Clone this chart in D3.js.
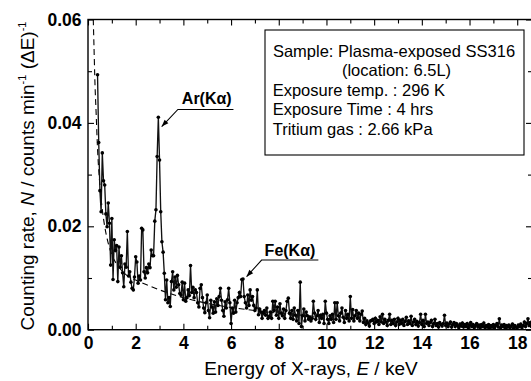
<!DOCTYPE html>
<html><head><meta charset="utf-8">
<script src="https://cdn.jsdelivr.net/npm/d3@7"></script>
<style>
body{margin:0;background:#fff}
svg{display:block}
text{font-family:"Liberation Sans",Arial,Helvetica,sans-serif;fill:#000}
</style>
</head><body>
<svg id="chart" width="531" height="381"></svg>
<script>
// ---- data ----
// spectrum channels: first channel energy and channel width (keV)
const channelStart = 0.40;
const channelWidth = 0.05;
// counting rate per channel, counts min^-1 (dE)^-1  (rows of 0.5 keV)
const rate = [
 .0493,.0362,.0269,.0228,.0342,.0288,.0280,.0224,.0199,.0245, // 0.40
 .0206,.0125,.0215,.0097,.0174,.0153,.0163,.0093,.0160,.0121, // 0.90
 .0143,.0110,.0083,.0127,.0121,.0190,.0104,.0112,.0092,.0080, // 1.40
 .0077,.0102,.0141,.0131,.0090,.0104,.0096,.0196,.0193,.0112, // 1.90
 .0100,.0120,.0110,.0127,.0120,.0154,.0143,.0143,.0210,.0232, // 2.40
 .0335,.0411,.0328,.0228,.0170,.0150,.0109,.0058,.0096,.0052, // 2.90
 .0062,.0045,.0093,.0112,.0077,.0102,.0082,.0105,.0087,.0070, // 3.40
 .0067,.0092,.0058,.0090,.0055,.0062,.0077,.0066,.0124,.0072, // 3.90
 .0082,.0062,.0077,.0072,.0052,.0044,.0080,.0087,.0062,.0042, // 4.40
 .0033,.0052,.0067,.0037,.0023,.0057,.0044,.0032,.0054,.0034, // 4.90
 .0060,.0047,.0064,.0080,.0057,.0037,.0026,.0054,.0042,.0058, // 5.40
 .0080,.0052,.0012,.0042,.0032,.0057,.0034,.0052,.0062,.0072, // 5.90
 .0064,.0097,.0098,.0064,.0052,.0042,.0067,.0047,.0077,.0057, // 6.40
 .0064,.0047,.0037,.0042,.0077,.0029,.0040,.0034,.0022,.0032, // 6.90
 .0037,.0028,.0042,.0022,.0026,.0034,.0022,.0055,.0037,.0055, // 7.40
 .0028,.0044,.0022,.0050,.0032,.0027,.0040,.0022,.0037,.0055, // 7.90
 .0061,.0032,.0022,.0037,.0020,.0042,.0028,.0017,.0037,.0012, // 8.40
 .0092,.0006,.0027,.0040,.0017,.0034,.0027,.0020,.0024,.0017, // 8.90
 .0022,.0055,.0032,.0020,.0027,.0037,.0014,.0028,.0022,.0030, // 9.40
 .0012,.0055,.0032,.0020,.0012,.0027,.0020,.0030,.0014,.0052, // 9.90
 .0020,.0052,.0027,.0017,.0032,.0042,.0024,.0014,.0037,.0022, // 10.40
 .0030,.0017,.0064,.0022,.0039,.0017,.0027,.0037,.0022,.0032, // 10.90
 .0017,.0030,.0036,.0014,.0022,.0010,.0017,.0013,.0007,.0017, // 11.40
 .0018,.0020,.0012,.0022,.0015,.0018,.0010,.0025,.0015,.0030, // 11.90
 .0012,.0020,.0015,.0008,.0018,.0030,.0010,.0018,.0012,.0020, // 12.40
 .0008,.0015,.0022,.0010,.0018,.0012,.0020,.0008,.0016,.0024, // 12.90
 .0010,.0017,.0012,.0026,.0008,.0015,.0020,.0010,.0016,.0007, // 13.40
 .0014,.0030,.0010,.0018,.0006,.0030,.0012,.0015,.0008,.0014, // 13.90
 .0018,.0006,.0012,.0020,.0008,.0012,.0005,.0014,.0010,.0007, // 14.40
 .0012,.0028,.0008,.0013,.0006,.0011,.0015,.0005,.0010,.0014, // 14.90
 .0006,.0012,.0008,.0004,.0011,.0007,.0013,.0005,.0010,.0006, // 15.40
 .0012,.0004,.0009,.0014,.0006,.0010,.0004,.0008,.0012,.0005, // 15.90
 .0009,.0004,.0010,.0006,.0013,.0004,.0008,.0005,.0010,.0003, // 16.40
 .0008,.0005,.0010,.0004,.0008,.0012,.0005,.0021,.0004,.0009, // 16.90
 .0006,.0010,.0003,.0008,.0005,.0009,.0004,.0007,.0011,.0003, // 17.40
 .0008,.0005,.0004,.0009,.0006,.0011,.0004,.0008,.0015,.0006, // 17.90
 .0012,.0021,.0008,.0014,.0006,.0010,.0005                    // 18.40
];
// background (dashed) curve
const bgEnergy = [0.21,0.25,0.29,0.34,0.40,0.48,0.58,0.70,0.85,1.0,1.2,1.4,1.7,2.0,2.5,3.0,3.5,4.0,5.0,6.0,7.0,8.0,9.0,10.0];
const bgRate   = [0.062,0.055,0.048,0.042,0.035,0.029,0.024,0.020,0.0167,0.0145,0.0127,0.0115,0.0103,0.0096,0.0086,0.0077,0.0069,0.0062,0.0051,0.0043,0.0037,0.0032,0.0028,0.0024];

const xMajor = [0,2,4,6,8,10,12,14,16,18];
const xMajorLabels = ["0","2","4","6","8","10","12","14","16","18"];
const xMinor = [1,3,5,7,9,11,13,15,17];
const yMajor = [0,0.02,0.04,0.06];
const yMajorLabels = ["0.00","0.02","0.04","0.06"];
const yMinor = [0.01,0.03,0.05];

const legendLines = [
  "Sample: Plasma-exposed SS316",
  "(location: 6.5L)",
  "Exposure temp. : 296 K",
  "Exposure Time : 4 hrs",
  "Tritium gas : 2.66 kPa"
];
const annotations = [
  {label:"Ar(K\u03b1)", tipE:3.09, tipV:0.0393, lineE0:3.77, lineE1:6.10, lineV:0.0426, textE:4.98, textV:0.0436},
  {label:"Fe(K\u03b1)", tipE:6.65, tipV:0.01025, lineE0:7.28, lineE1:9.66, lineV:0.01348, textE:8.47, textV:0.01435}
];

// ---- layout ----
const L = 88, R = 532, T = 19.5, B = 329.7;
const x = d3.scaleLinear().domain([0, 18.62]).range([L, R]);
const y = d3.scaleLinear().domain([0, 0.06]).range([B, T]);

const svg = d3.select("#chart");
svg.append("defs").append("clipPath").attr("id","plot")
  .append("rect").attr("x",L).attr("y",T).attr("width",R-L).attr("height",B-T);

const pts = rate.map((v,i)=>[channelStart + i*channelWidth, v]);
const bg = bgEnergy.map((e,i)=>[e, bgRate[i]]);

const plot = svg.append("g").attr("clip-path","url(#plot)");
plot.append("path").datum(bg)
  .attr("d", d3.line().x(d=>x(d[0])).y(d=>y(d[1])).curve(d3.curveMonotoneX))
  .attr("fill","none").attr("stroke","#000").attr("stroke-width",1.1)
  .attr("stroke-dasharray","6,4");
plot.append("path").datum(pts)
  .attr("d", d3.line().x(d=>x(d[0])).y(d=>y(d[1])))
  .attr("fill","none").attr("stroke","#111").attr("stroke-width",1.35);
plot.selectAll("circle").data(pts).join("circle")
  .attr("cx",d=>x(d[0])).attr("cy",d=>y(d[1])).attr("r",1.8).attr("fill","#000");

// ---- axes ----
function styleAxis(g){
  g.select(".domain").remove();
  g.selectAll(".tick line").attr("stroke","#000").attr("stroke-width",1.1);
  g.selectAll(".tick text").attr("font-size",17.5).attr("font-weight","bold")
    .attr("font-family",'"Liberation Sans",Arial,sans-serif').attr("fill","#000");
}
svg.append("g").attr("transform",`translate(0,${B})`)
  .call(d3.axisBottom(x).tickValues(xMajor).tickSize(-6).tickPadding(7)
        .tickFormat((d,i)=>xMajorLabels[i])).call(styleAxis);
svg.append("g").attr("transform",`translate(0,${B})`)
  .call(d3.axisBottom(x).tickValues(xMinor).tickSize(-4).tickFormat("")).call(styleAxis);
svg.append("g").attr("transform",`translate(0,${T})`)
  .call(d3.axisTop(x).tickValues(xMajor).tickSize(-6).tickFormat("")).call(styleAxis);
svg.append("g").attr("transform",`translate(0,${T})`)
  .call(d3.axisTop(x).tickValues(xMinor).tickSize(-4).tickFormat("")).call(styleAxis);
svg.append("g").attr("transform",`translate(${L},0)`)
  .call(d3.axisLeft(y).tickValues(yMajor).tickSize(-6).tickPadding(6.5)
        .tickFormat((d,i)=>yMajorLabels[i])).call(styleAxis);
svg.append("g").attr("transform",`translate(${L},0)`)
  .call(d3.axisLeft(y).tickValues(yMinor).tickSize(-4).tickFormat("")).call(styleAxis);
svg.append("g").attr("transform",`translate(${R},0)`)
  .call(d3.axisRight(y).tickValues(yMajor).tickSize(-6).tickFormat("")).call(styleAxis);
svg.append("g").attr("transform",`translate(${R},0)`)
  .call(d3.axisRight(y).tickValues(yMinor).tickSize(-4).tickFormat("")).call(styleAxis);

svg.append("rect").attr("x",L).attr("y",T).attr("width",R-L).attr("height",B-T)
  .attr("fill","none").attr("stroke","#000").attr("stroke-width",1.4);

// ---- axis titles ----
const xt = svg.append("text").attr("x",311).attr("y",375).attr("text-anchor","middle").attr("font-size",19);
xt.append("tspan").text("Energy of X-rays, ");
xt.append("tspan").attr("font-style","italic").text("E");
xt.append("tspan").text(" / keV");

const yt = svg.append("text").attr("transform","translate(33.5,176) rotate(-90)")
  .attr("text-anchor","middle").attr("font-size",19);
yt.append("tspan").text("Counting rate, ");
yt.append("tspan").attr("font-style","italic").text("N");
yt.append("tspan").text(" / counts min");
yt.append("tspan").attr("font-size",11).attr("dy",-8).text("-1");
yt.append("tspan").attr("dy",8).text(" (\u0394E)");
yt.append("tspan").attr("font-size",11).attr("dy",-8).text("-1");

// ---- legend box ----
svg.append("rect").attr("x",265).attr("y",30).attr("width",259).attr("height",125)
  .attr("fill","#fff").attr("stroke","#000").attr("stroke-width",1.1);
const lgBase = [56.7,76.2,95.6,115.1,134.5];
legendLines.forEach((s,i)=>{
  const t = svg.append("text").attr("y",lgBase[i]).attr("font-size",16.5).text(s);
  if(i===0) t.attr("x",394).attr("text-anchor","middle");
  else if(i===1) t.attr("x",396.5).attr("text-anchor","middle");
  else t.attr("x",272.7);
});

// ---- annotations ----
annotations.forEach(a=>{
  svg.append("text").attr("x",x(a.textE)).attr("y",y(a.textV)).attr("text-anchor","middle")
    .attr("font-size",16).attr("font-weight","bold").text(a.label);
  const x0=x(a.lineE0), y0=y(a.lineV), tx=x(a.tipE), ty=y(a.tipV);
  svg.append("path").attr("d",`M${x(a.lineE1)},${y0}L${x0},${y0}L${tx},${ty}`)
    .attr("fill","none").attr("stroke","#000").attr("stroke-width",1.1);
  const dx=tx-x0, dy=ty-y0, len=Math.hypot(dx,dy), ux=dx/len, uy=dy/len;
  const hl=7, hw=2.6, bx=tx-ux*hl, by=ty-uy*hl;
  svg.append("path").attr("d",`M${tx},${ty}L${bx-uy*hw},${by+ux*hw}L${bx+uy*hw},${by-ux*hw}Z`).attr("fill","#000");
});
</script>
</body></html>
